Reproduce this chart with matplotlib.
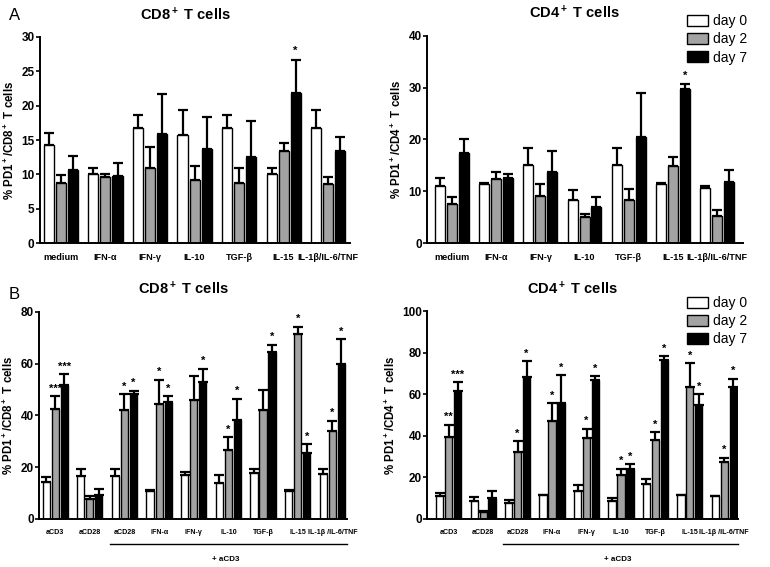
import numpy as np
import matplotlib.pyplot as plt
from matplotlib.patches import Patch

plt.rcParams['font.family'] = ['Liberation Sans', 'DejaVu Sans']
plt.rcParams['mathtext.default'] = 'regular'

days = ['day 0', 'day 2', 'day 7']
colors = ['white', '#a3a3a3', 'black']

groups_a = ['medium', 'IFN-α', 'IFN-γ', 'IL-10', 'TGF-β', 'IL-15', 'IL-1β/IL-6/TNF']
groups_b = ['aCD3', 'aCD28', 'aCD28', 'IFN-α', 'IFN-γ', 'IL-10', 'TGF-β', 'IL-15', 'IL-1β /IL-6/TNF']

# A - CD8 (mean, top of error bar) per day
a_cd8_mean = [[14.3, 10.1, 16.8, 15.7, 16.8, 10.1, 16.8],
              [8.8, 9.6, 11.0, 9.2, 8.7, 13.4, 8.6],
              [10.7, 9.8, 15.9, 13.7, 12.6, 21.8, 13.4]]
a_cd8_top = [[16.0, 11.0, 18.6, 19.3, 18.6, 11.0, 19.3],
             [9.9, 10.0, 14.0, 11.3, 11.0, 14.5, 9.7],
             [12.7, 11.6, 21.7, 18.4, 17.7, 26.7, 15.5]]
a_cd8_stars = [['']*7, ['']*7, ['', '', '', '', '', '*', '']]

# A - CD4
a_cd4_mean = [[11.1, 11.4, 15.1, 8.3, 15.1, 11.4, 10.6],
              [7.5, 12.3, 9.2, 5.1, 8.4, 14.8, 5.3],
              [17.4, 12.5, 13.7, 7.0, 20.4, 29.8, 11.9]]
a_cd4_top = [[12.6, 11.6, 18.4, 10.3, 18.4, 11.6, 11.0],
             [9.0, 13.8, 11.4, 5.7, 10.5, 16.6, 6.5],
             [20.0, 13.4, 17.7, 8.9, 28.9, 30.6, 14.2]]
a_cd4_stars = [['']*7, ['']*7, ['', '', '', '', '', '*', '']]

# B - CD8
b_cd8_mean = [[14.2, 16.7, 16.7, 10.8, 16.9, 14.0, 17.6, 10.8, 17.5],
              [42.3, 7.5, 42.2, 44.5, 46.0, 26.6, 42.2, 71.5, 34.0],
              [51.7, 9.3, 48.2, 45.0, 52.7, 38.1, 64.6, 25.5, 59.8]]
b_cd8_top = [[16.1, 19.3, 19.3, 11.2, 18.0, 17.0, 19.1, 11.2, 19.2],
             [47.3, 8.9, 48.1, 53.7, 55.1, 31.5, 49.8, 74.3, 38.0],
             [55.9, 11.6, 49.5, 47.3, 58.1, 46.4, 67.3, 28.9, 69.5]]
b_cd8_stars = [['']*9,
               ['***', '', '*', '*', '', '*', '', '*', '*'],
               ['***', '', '*', '*', '*', '*', '*', '*', '*']]

# B - CD4
b_cd4_mean = [[11.0, 8.5, 7.5, 11.4, 13.6, 8.7, 16.7, 11.4, 10.8],
              [39.5, 3.5, 32.4, 47.2, 39.0, 21.2, 38.1, 63.6, 27.4],
              [61.8, 10.0, 68.3, 56.0, 66.8, 24.0, 76.7, 54.8, 63.3]]
b_cd4_top = [[12.5, 10.5, 9.2, 11.6, 16.4, 10.1, 19.2, 11.6, 11.0],
             [45.3, 3.9, 37.4, 55.7, 43.4, 24.1, 41.8, 75.0, 29.5],
             [66.0, 13.6, 75.9, 69.3, 68.7, 26.3, 78.3, 59.9, 67.6]]
b_cd4_stars = [['']*9,
               ['**', '', '*', '*', '*', '*', '*', '*', '*'],
               ['***', '', '*', '*', '*', '*', '*', '*', '*']]

fig = plt.figure(figsize=(7.7, 5.67), dpi=100)


def panel(rect, groups, means, tops, stars, ymax, ystep, xlim, width, off,
          title, ylabel, star_pad, xfs):
    ax = fig.add_axes(rect)
    x = np.arange(len(groups))
    for d in range(3):
        xs = x + (d - 1) * off
        m = np.array(means[d])
        t = np.array(tops[d])
        ax.bar(xs, m, width=width, color=colors[d], edgecolor='black',
               linewidth=1.0, zorder=2)
        ax.errorbar(xs, m, yerr=[np.zeros_like(m), t - m], fmt='none',
                    ecolor='black', elinewidth=1.6, capsize=3.3,
                    capthick=1.6, zorder=1)
        for i, s in enumerate(stars[d]):
            if s:
                ax.text(xs[i], t[i] + star_pad, s, ha='center', va='bottom',
                        fontsize=8, fontweight='bold')
    ax.set_ylim(0, ymax)
    ax.set_xlim(*xlim)
    ax.set_yticks(np.arange(0, ymax + 0.1, ystep))
    ax.set_xticks(x)
    ax.set_xticklabels(groups, fontsize=xfs, fontweight='bold')
    ax.tick_params(axis='x', length=0, pad=7)
    ax.tick_params(axis='y', length=3, width=1.2, labelsize=8.5, pad=1)
    for lab in ax.get_yticklabels():
        lab.set_fontweight('bold')
    for sp in ['top', 'right']:
        ax.spines[sp].set_visible(False)
    for sp in ['left', 'bottom']:
        ax.spines[sp].set_linewidth(1.4)
    ax.set_ylabel(ylabel, fontsize=8.3, fontweight='bold', labelpad=3)
    ax.text(0.467, 1.11, title, transform=ax.transAxes, ha='center',
            va='center', fontsize=10.5, fontweight='bold')
    return ax


ax1 = panel([0.052, 0.571, 0.403, 0.364], groups_a, a_cd8_mean, a_cd8_top,
            a_cd8_stars, 30, 5, (-0.47, 6.5), 0.225, 0.27,
            'CD8$^+$ T cells', '% PD1$^+$/CD8$^+$ T cells', 0.5, 6.6)
ax2 = panel([0.555, 0.571, 0.410, 0.366], groups_a, a_cd4_mean, a_cd4_top,
            a_cd4_stars, 40, 10, (-0.56, 6.59), 0.225, 0.27,
            'CD4$^+$ T cells', '% PD1$^+$/CD4$^+$ T cells', 0.7, 6.6)
ax3 = panel([0.051, 0.085, 0.400, 0.365], groups_b, b_cd8_mean, b_cd8_top,
            b_cd8_stars, 80, 20, (-0.46, 8.43), 0.21, 0.26,
            'CD8$^+$ T cells', '% PD1$^+$/CD8$^+$ T cells', 1.0, 5.1)
ax4 = panel([0.555, 0.085, 0.404, 0.366], groups_b, b_cd4_mean, b_cd4_top,
            b_cd4_stars, 100, 20, (-0.62, 8.41), 0.21, 0.26,
            'CD4$^+$ T cells', '% PD1$^+$/CD4$^+$ T cells', 1.2, 5.1)

for ax, x0, x1 in [(ax3, 1.59, 8.43), (ax4, 1.58, 8.41)]:
    tr = ax.get_xaxis_transform()
    ax.plot([x0, x1], [-0.12, -0.12], color='black', lw=1.0,
            transform=tr, clip_on=False)
    ax.text((x0 + x1) / 2 - 0.1, -0.195, '+ aCD3', transform=tr, ha='center',
            va='center', fontsize=5.8, fontweight='bold')

handles = [Patch(facecolor=c, edgecolor='black', linewidth=1.0) for c in colors]
for ytop in [0.975, 0.478]:
    fig.legend(handles, days, loc='upper left',
               bbox_to_anchor=(0.892, ytop), frameon=False, fontsize=10,
               handlelength=1.5, handleheight=0.85, handletextpad=0.4,
               labelspacing=0.3, borderaxespad=0, borderpad=0)

fig.text(0.011, 0.972, 'A', fontsize=12, va='center', ha='left')
fig.text(0.011, 0.48, 'B', fontsize=12, va='center', ha='left')

fig.savefig('out.png', dpi=100)
